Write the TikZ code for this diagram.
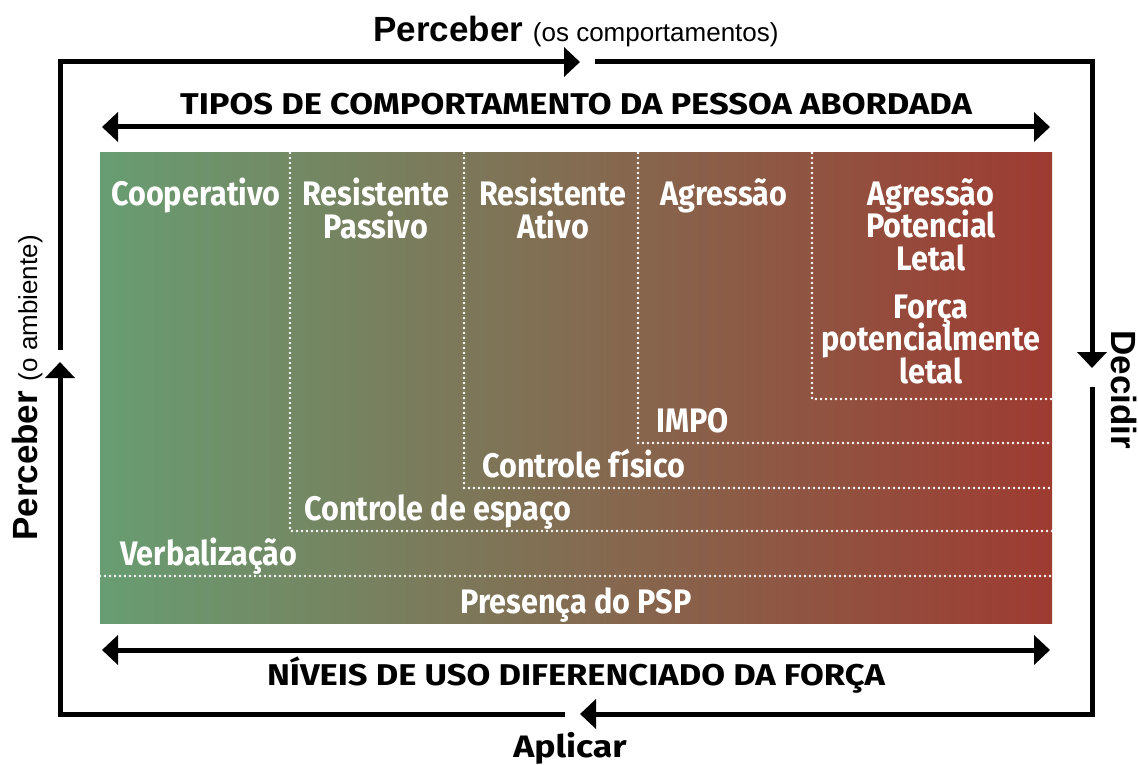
\documentclass[tikz,border=0pt]{standalone}
\usepackage{fontspec}
\setmainfont{Liberation Sans}
\newfontfamily\condfont[FakeStretch=0.9]{Fira Sans}
\newfontfamily\headfont[FakeStretch=1.15]{Fira Sans}
\usetikzlibrary{arrows.meta}
\definecolor{coopgreen}{RGB}{104,157,114}
\definecolor{midolive}{RGB}{140,120,84}
\definecolor{letalred}{RGB}{158,59,49}
\newcommand{\tightlines}{\lineskiplimit-40pt\relax}
\tikzset{
  >={Triangle[length=16pt,width=29pt]},
  cycleline/.style={line width=5pt, ->},
  scaleline/.style={line width=5pt, <->},
  limit/.style={draw=white, line width=2.8pt, dash pattern=on 0pt off 5pt, line cap=round},
  behav/.style={text=white, font=\condfont\bfseries\fontsize{34}{32.5}\selectfont\tightlines,
                align=center, inner sep=0pt, anchor=base},
  force/.style={text=white, font=\condfont\bfseries\fontsize{34}{32.5}\selectfont,
                inner sep=0pt, anchor=base west},
  axistitle/.style={font=\headfont\bfseries\fontsize{30}{30}\selectfont, inner sep=0pt, anchor=base},
  phase/.style={font=\bfseries\fontsize{35}{35}\selectfont, inner sep=0pt, anchor=base}
}
\newcommand{\aside}[1]{{\mdseries\fontsize{26}{26}\selectfont #1}}
\begin{document}
\begin{tikzpicture}[x=1pt,y=-1pt]
    \useasboundingbox (0,0) rectangle (1138,765);
    % Draw cycle
    \coordinate (tl) at (60,62);
    \coordinate (tr) at (1092,62);
    \coordinate (br) at (1092,714);
    \coordinate (bl) at (60,714);
    \coordinate (topin) at (580,62);
    \coordinate (topout) at (595,62);
    \coordinate (rightin) at (1092,368);
    \coordinate (rightout) at (1092,387);
    \coordinate (botin) at (580,714);
    \coordinate (botout) at (565,714);
    \coordinate (leftin) at (60,362);
    \coordinate (leftout) at (60,350);
    \draw [cycleline] (leftout) -- (tl) -- (topin);
    \draw [cycleline] (topout) -- (tr) -- (rightin);
    \draw [cycleline] (rightout) -- (br) -- (botin);
    \draw [cycleline] (botout) -- (bl) -- (leftin);
    \node (perc top) at (576,42) [phase] {Perceber \aside{(os comportamentos)}};
    \node (decide) at (1111,390) [phase,rotate=-90] {Decidir};
    \node (apply) at (570,757) [axistitle,font=\headfont\bfseries\fontsize{31}{31}\selectfont] {Aplicar};
    \node (perc left) at (37,388) [phase,rotate=90] {Perceber \aside{(o ambiente)}};

    % Gradient scale
    \shade [left color=coopgreen, middle color=midolive, right color=letalred]
          (100,153) rectangle (1052,623);
    \draw [limit] (100,576) -- (1052,576);
    \draw [limit] (290,153) -- (290,531) -- (1052,531);
    \draw [limit] (464,153) -- (464,488) -- (1052,488);
    \draw [limit] (638,153) -- (638,443) -- (1052,443);
    \draw [limit] (812,153) -- (812,399) -- (1052,399);

    % Behaviour columns (base = last line)
    \node (coop) at (196,205) [behav] {Cooperativo};
    \node (passive) at (376,238) [behav] {Resistente\\Passivo};
    \node (active) at (553,238) [behav] {Resistente\\Ativo};
    \node (aggr) at (724,205) [behav] {Agressão};
    \node (lethal) at (931,270) [behav] {Agressão\\Potencial\\Letal};

    % Force levels
    \node (deadly) at (931,383) [behav] {Força\\potencialmente\\letal};
    \node (impo) at (656,432) [force] {IMPO};
    \node (physical) at (482,477) [force] {Controle físico};
    \node (space) at (304,520) [force] {Controle de espaço};
    \node (verbal) at (120,565) [force] {Verbalização};
    \node (presence) at (576,613) [behav] {Presença do PSP};

    % Axes
    \draw [scaleline] (102,127) -- (1050,127);
    \node (behav axis) at (576,115) [axistitle] {TIPOS DE COMPORTAMENTO DA PESSOA ABORDADA};
    \draw [scaleline] (102,650) -- (1050,650);
    \node (force axis) at (576,685) [axistitle] {NÍVEIS DE USO DIFERENCIADO DA FORÇA};
\end{tikzpicture}
\end{document}
